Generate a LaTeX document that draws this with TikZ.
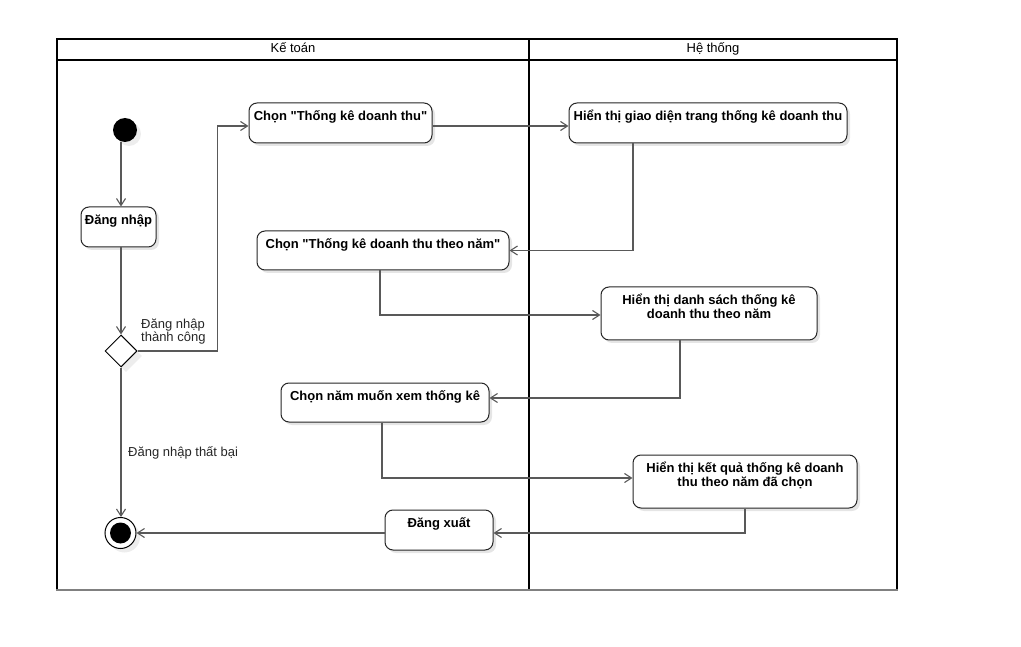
\documentclass[tikz,border=0pt]{standalone}
\usepackage{fontspec}
\setmainfont{Liberation Sans}
\usetikzlibrary{arrows.meta,shapes.geometric,shadows}
\begin{document}
\begin{tikzpicture}[x=1pt,y=-1pt,
  lane/.style={line width=2pt,draw=black},
  shade/.style={drop shadow={shadow xshift=3pt,shadow yshift=-3pt,fill=black!10,opacity=1}},
  act/.style={draw=black!85,line width=1pt,fill=white,rounded corners=8pt,
    inner sep=0pt,align=center,text height=17.5pt,
    font=\fontsize{13}{14}\selectfont\bfseries,shade},
  act2/.style={act,text height=31.5pt,text depth=21.5pt},
  flow/.style={draw=black!65,line width=1.1pt,-{Straight Barb[length=7pt,width=9pt]}},
  lbl/.style={font=\fontsize{13}{13}\selectfont,text=black!85,inner sep=0pt,align=left},
  hdr/.style={font=\fontsize{13}{14}\selectfont,inner sep=0pt}
]
\useasboundingbox (0,0) rectangle (1021,647);

% swimlanes
\draw[lane] (57,590) -- (57,39) -- (897,39) -- (897,590);
\draw[lane] (57,60) -- (897,60);
\draw[lane] (529,39) -- (529,590);
\draw[line width=2pt,draw=black!50] (56,590) -- (898,590);
\node[hdr,anchor=base] (h1) at (293,53) {Kế toán};
\node[hdr,anchor=base] (h2) at (713,53) {Hệ thống};

% activity nodes
\node[circle,fill=black,minimum size=24pt,inner sep=0pt,
  drop shadow={shadow xshift=4pt,shadow yshift=-4pt,fill=black!7,opacity=1}] (start) at (125,130) {};
\node[act,minimum width=75pt,text depth=22.5pt] (login) at (118.5,227) {Đăng nhập};
\node[diamond,draw=black,line width=1pt,fill=white,minimum size=32pt,inner sep=0pt,
  drop shadow={shadow xshift=5pt,shadow yshift=-5pt,fill=black!7,opacity=1}] (dec) at (121,351) {};
\node[act,minimum width=183pt,text depth=22.5pt] (a1) at (340.5,123) {Chọn \textquotedbl Thống kê doanh thu\textquotedbl};
\node[act,minimum width=278pt,text depth=22.5pt] (s1) at (708,123) {Hiển thị giao diện trang thống kê doanh thu};
\node[act,minimum width=252pt,text depth=21.5pt] (a2) at (383,250.5) {Chọn \textquotedbl Thống kê doanh thu theo năm\textquotedbl};
\node[act2,minimum width=216pt] (s2) at (709,313.5) {Hiển thị danh sách thống kê\\doanh thu theo năm};
\node[act,minimum width=208pt,text depth=21.5pt] (a3) at (385,402.5) {Chọn năm muốn xem thống kê};
\node[act2,minimum width=224pt] (s3) at (745,481.5) {Hiển thị kết quả thống kê doanh\\thu theo năm đã chọn};
\node[act,minimum width=108pt,text depth=22.5pt] (a4) at (439,530) {Đăng xuất};
\node[circle,draw=black,line width=1pt,fill=white,minimum size=31pt,inner sep=0pt,
  path picture={\fill[black] (path picture bounding box.center) circle (10.5pt);},
  drop shadow={shadow xshift=4pt,shadow yshift=-4pt,fill=black!7,opacity=1}] (endc) at (120.5,533) {};

% control flow
\draw[flow] (start.south -| dec.north) -- (login.north -| dec.north);
\draw[flow] (login.south -| dec.north) -- (dec.north);
\draw[flow] (dec.east) -- ++(80,0) |- ([yshift=-3pt]a1.west);
\draw[flow] (dec.south) -- (dec.south |- endc.north);
\draw[flow] ([yshift=-3pt]a1.east) -- ([yshift=-3pt]s1.west);
\draw[flow] ([xshift=-75pt]s1.south) |- (a2.east);
\draw[flow] ([xshift=-3pt]a2.south) |- ([yshift=-1.5pt]s2.west);
\draw[flow] ([xshift=-29pt]s2.south) |- ([yshift=4.5pt]a3.east);
\draw[flow] ([xshift=-3pt]a3.south) |- ([yshift=3.5pt]s3.west);
\draw[flow] (s3.south) |- ([yshift=-3pt]a4.east);
\draw[flow] ([yshift=-3pt]a4.west) -- (endc.east);

% guard labels
\node[lbl,anchor=west] (g1) at (141,332) {Đăng nhập\\thành công};
\node[lbl,anchor=base west] (g2) at (128,456) {Đăng nhập thất bại};
\end{tikzpicture}
\end{document}
